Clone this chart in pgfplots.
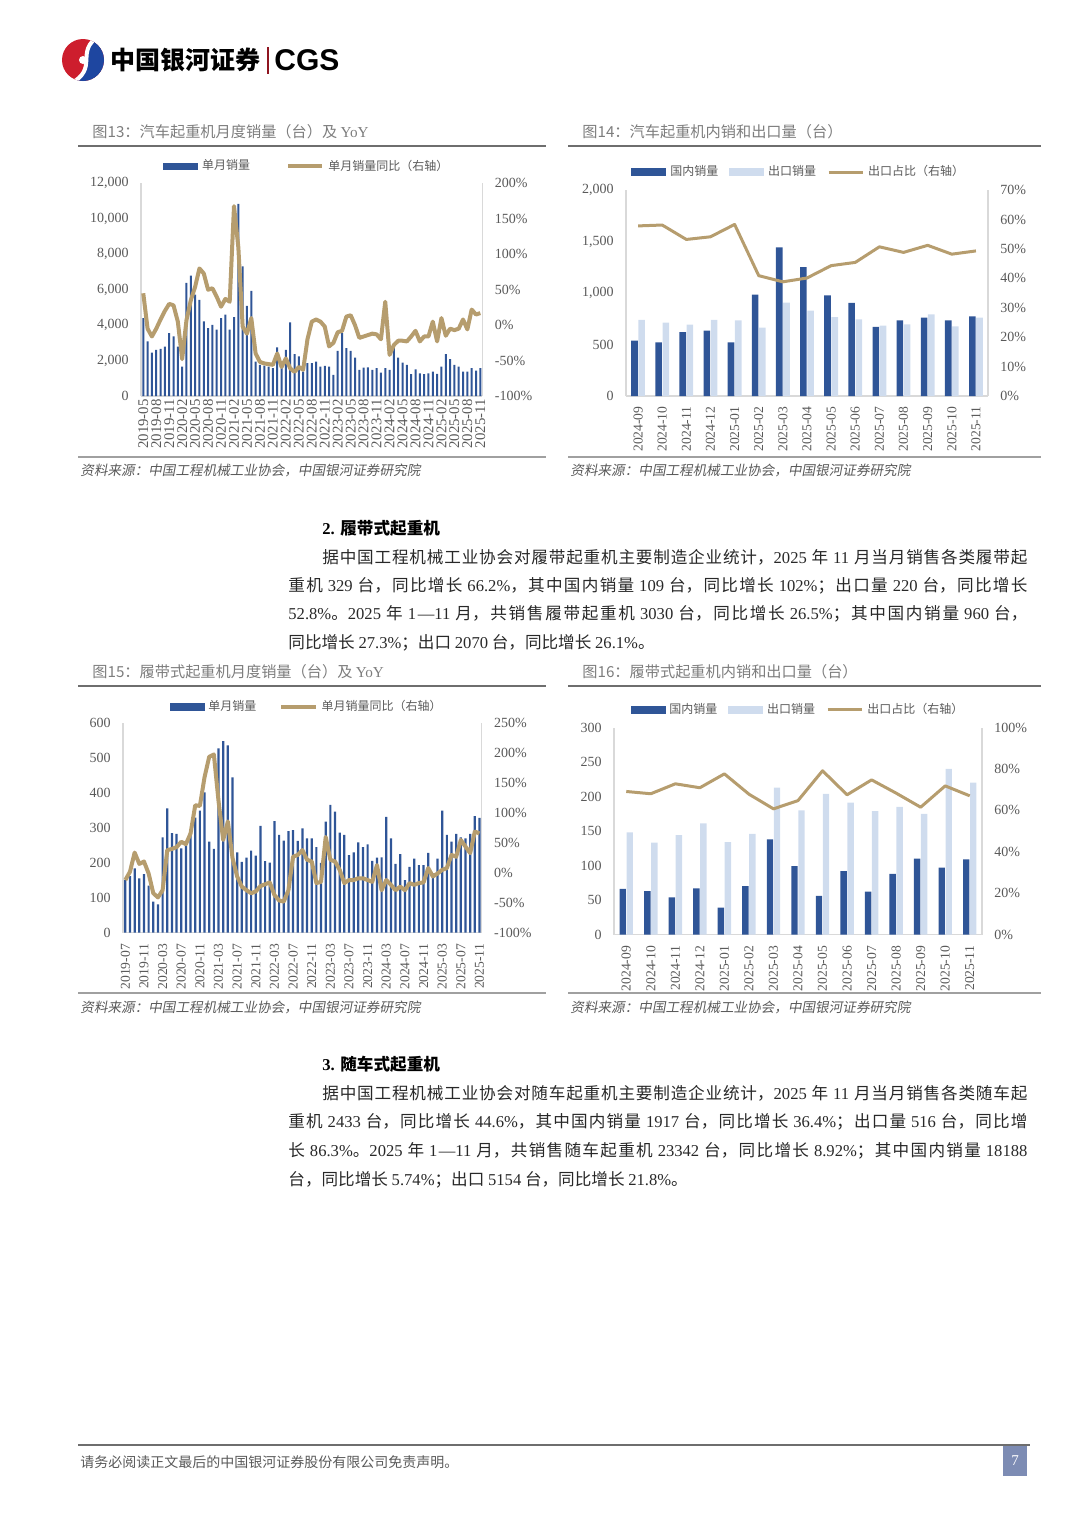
\documentclass[border=0pt]{standalone}
\usepackage{fontspec}
\setmainfont{Liberation Serif}
\setsansfont{Liberation Sans}
\newfontfamily\cjk{Noto Sans CJK SC}
\newfontfamily\cjkit{Noto Sans CJK SC}[FakeSlant=0.18]
\usepackage{pgfplots}
\usepackage{pgfplotstable}
\pgfplotsset{compat=1.18}
\XeTeXlinebreaklocale "zh"
\XeTeXlinebreakskip=0pt plus 2pt minus 0.1pt

\definecolor{dblue}{RGB}{47,85,151}
\definecolor{lblue}{RGB}{207,220,238}
\definecolor{gold}{RGB}{182,157,110}
\definecolor{tgrey}{RGB}{89,89,89}
\definecolor{titlegrey}{RGB}{125,125,125}
\definecolor{axgrey}{RGB}{217,217,217}
\definecolor{rulegrey}{RGB}{110,110,110}
\definecolor{botgrey}{RGB}{160,160,160}
\definecolor{bodytext}{RGB}{40,40,40}
\definecolor{cgsred}{RGB}{205,30,45}
\definecolor{cgsblue}{RGB}{30,70,160}
\definecolor{pagebox}{RGB}{125,140,180}

\newcommand\R[1]{{\rmfamily #1}}
\newcommand\bodyfont{\cjk\fontsize{8.3}{10}\selectfont\color{bodytext}}
\newcommand\jline[2]{\parbox{#1}{\bodyfont\parindent=0pt\parfillskip=0pt\spaceskip=0.28em plus 0.06em minus 0.05em\relax #2}}

\pgfplotstableread{
v yoy
4400 45
3080 -5
2450 -16
2600 -5
2660 8
2790 20
3550 30
3360 28
2790 5
1660 -48
6380 7
6790 35
5720 54
5430 80
4210 73
3830 50
4020 52
3740 40
4400 26
4590 37
3740 33
4450 168
10850 110
7320 -2
5090 -12
5940 10
1940 -40
1760 -52
1720 -54
1660 -55
1570 -56
2740 -40
1940 -59
2600 -47
4150 -61
2360 -66
2230 -59
1380 -63
1850 -20
1850 5
1940 8
1660 5
1700 -2
1660 -30
1190 -25
2550 -10
3550 -8
2700 12
2550 14
2170 0
1470 -18
1600 -16
1620 -14
1470 -12
1570 -13
1320 -20
1570 33
1470 -42
2700 -28
2170 -22
1890 -22
1760 -23
1230 -16
1510 -8
1280 -23
1230 -16
1280 -16
1380 5
1250 -23
1660 10
2360 -15
2080 -5
1760 -7
1660 -5
1380 8
1380 -6
1570 22
1430 15
1570 17
}\tcm

\pgfplotstableread{
dom exp share
537 738 57.8
521 712 58.1
621 693 53.2
634 738 54.1
521 735 58.3
984 663 40.9
1443 906 38.8
1252 828 40.1
977 767 44.3
903 744 45.4
670 683 50.7
735 696 48.8
760 793 51.2
735 676 48.2
773 760 49.3
}\tcx

\pgfplotstableread{
v yoy
151 -12
162 2
184 34
156 15
168 19
135 -1
89 -34
81 -41
273 -29
356 38
285 40
283 43
242 52
261 48
282 66
330 113
350 112
402 160
261 194
240 198
528 120
549 55
537 86
445 25
230 -6
203 -23
215 -29
235 -34
221 -31
306 -22
205 -19
201 -16
320 -37
280 -46
264 -48
291 -29
294 27
263 30
299 38
270 22
270 19
245 -17
200 -15
318 60
366 22
347 19
287 5
280 -17
222 -12
230 -12
259 -9
245 -9
253 -12
206 -15
215 13
216 -29
332 -12
270 -20
197 -29
225 -23
151 -29
189 -17
212 -20
194 -17
194 -16
229 8
170 -6
212 -1
350 5
280 8
261 30
283 27
273 55
270 44
283 33
334 69
329 66
}\ccm

\pgfplotstableread{
dom exp share
66 148 69.1
63 133 68.0
54 144 72.8
67 161 70.9
39 134 77.6
70 146 67.8
138 213 60.7
99 180 64.7
56 204 79.1
92 191 67.5
62 179 74.7
88 185 68.3
110 175 61.5
97 240 71.8
109 220 67.0
}\ccx

\pgfplotsset{
 base/.style={scale only axis, anchor=south west, clip=false,
   axis line style={-, draw=axgrey, line width=0.6pt},
   major tick length=0pt, tick style={draw=none},
   /pgf/number format/assume math mode=true,
   scaled y ticks=false,
   ticklabel style={text=tgrey, font=\fontsize{7}{8}\selectfont},
   yticklabel style={inner xsep=6pt},
   xticklabel style={rotate=90, anchor=east, font=\fontsize{6.8}{7}\selectfont},
 },
 leg/.style 2 args={legend style={at={#1}, anchor=west, draw=none, fill=none, inner sep=0pt,
   font=\cjk\fontsize{6}{7}\selectfont, text=tgrey, legend columns=-1,
   /tikz/every even column/.append style={column sep=#2}}},
 barimg/.style={legend image code/.code={\fill[#1] (0pt,-1.7pt) rectangle (17pt,1.7pt);}},
}

\begin{document}
\begin{tikzpicture}
\begin{scope}[x=0.5pt,y=-0.5pt]
\path[use as bounding box] (0,0) rectangle (1080,1527);
% ---------- header ----------
\begin{scope}
\clip (83,60) circle (21);
\fill[cgsred] (60,37) rectangle (106,83);
\fill[cgsblue] (99,36) .. controls (74,52) and (100,68) .. (70,84) -- (108,84) -- (108,36) -- cycle;
\draw[white, line width=2pt] (99,36) .. controls (74,52) and (100,68) .. (70,84);
\fill[white] (83,60) circle (4);
\end{scope}
\node[anchor=west, inner sep=0pt] at (110,60) {\cjk\bfseries\fontsize{12.5}{14}\selectfont 中国银河证券};
\draw[color=cgsred!70!black, line width=0.7pt] (268,47) -- (268,74);
\node[anchor=west, inner sep=0pt] at (274,60) {\sffamily\bfseries\fontsize{15}{16}\selectfont CGS};
% ---------- chart frames ----------
\node[anchor=west, inner sep=0pt, text=titlegrey] at (92,132) {\cjk\fontsize{7.6}{9}\selectfont 图13：汽车起重机月度销量（台）及 \R{YoY}};
\draw[rulegrey, line width=1pt] (78,146) -- (546,146);
\draw[botgrey, line width=0.7pt] (78,457) -- (546,457);
\node[anchor=west, inner sep=0pt, text=tgrey] at (80,470) {\cjkit\fontsize{6.8}{8}\selectfont 资料来源：中国工程机械工业协会，中国银河证券研究院};

\node[anchor=west, inner sep=0pt, text=titlegrey] at (582,132) {\cjk\fontsize{7.6}{9}\selectfont 图14：汽车起重机内销和出口量（台）};
\draw[rulegrey, line width=1pt] (568,146) -- (1041,146);
\draw[botgrey, line width=0.7pt] (568,457) -- (1041,457);
\node[anchor=west, inner sep=0pt, text=tgrey] at (570,470) {\cjkit\fontsize{6.8}{8}\selectfont 资料来源：中国工程机械工业协会，中国银河证券研究院};

\node[anchor=west, inner sep=0pt, text=titlegrey] at (92,672) {\cjk\fontsize{7.6}{9}\selectfont 图15：履带式起重机月度销量（台）及 \R{YoY}};
\draw[rulegrey, line width=1pt] (78,686) -- (546,686);
\draw[botgrey, line width=0.7pt] (78,993) -- (546,993);
\node[anchor=west, inner sep=0pt, text=tgrey] at (80,1007) {\cjkit\fontsize{6.8}{8}\selectfont 资料来源：中国工程机械工业协会，中国银河证券研究院};

\node[anchor=west, inner sep=0pt, text=titlegrey] at (582,672) {\cjk\fontsize{7.6}{9}\selectfont 图16：履带式起重机内销和出口量（台）};
\draw[rulegrey, line width=1pt] (568,686) -- (1041,686);
\draw[botgrey, line width=0.7pt] (568,993) -- (1041,993);
\node[anchor=west, inner sep=0pt, text=tgrey] at (570,1007) {\cjkit\fontsize{6.8}{8}\selectfont 资料来源：中国工程机械工业协会，中国银河证券研究院};
% ---------- body text ----------
\node[anchor=west, inner sep=0pt] at (322,528) {\fontsize{8.3}{10}\selectfont\bfseries 2. {\cjk\bfseries 履带式起重机}};
\node[anchor=west, inner sep=0pt] at (322,557) {\jline{352.5pt}{据中国工程机械工业协会对履带起重机主要制造企业统计，\R{2025} 年 \R{11} 月当月销售各类履带起}};
\node[anchor=west, inner sep=0pt] at (288,586) {\jline{369.5pt}{重机 \R{329} 台，同比增长 \R{66.2\%}，其中国内销量 \R{109} 台，同比增长 \R{102\%}；出口量 \R{220} 台，同比增长}};
\node[anchor=west, inner sep=0pt] at (288,614) {\jline{369.5pt}{\R{52.8\%}。\R{2025} 年 \R{1—11} 月，共销售履带起重机 \R{3030} 台，同比增长 \R{26.5\%}；其中国内销量 \R{960} 台，}};
\node[anchor=west, inner sep=0pt] at (288,643) {\bodyfont 同比增长 \R{27.3\%}；出口 \R{2070} 台，同比增长 \R{26.1\%}。};

\node[anchor=west, inner sep=0pt] at (322,1064) {\fontsize{8.3}{10}\selectfont\bfseries 3. {\cjk\bfseries 随车式起重机}};
\node[anchor=west, inner sep=0pt] at (322,1093) {\jline{352.5pt}{据中国工程机械工业协会对随车起重机主要制造企业统计，\R{2025} 年 \R{11} 月当月销售各类随车起}};
\node[anchor=west, inner sep=0pt] at (288,1122) {\jline{369.5pt}{重机 \R{2433} 台，同比增长 \R{44.6\%}，其中国内销量 \R{1917} 台，同比增长 \R{36.4\%}；出口量 \R{516} 台，同比增}};
\node[anchor=west, inner sep=0pt] at (288,1151) {\jline{369.5pt}{长 \R{86.3\%}。\R{2025} 年 \R{1—11} 月，共销售随车起重机 \R{23342} 台，同比增长 \R{8.92\%}；其中国内销量 \R{18188}}};
\node[anchor=west, inner sep=0pt] at (288,1180) {\bodyfont 台，同比增长 \R{5.74\%}；出口 \R{5154} 台，同比增长 \R{21.8\%}。};
% ---------- footer ----------
\draw[rulegrey, line width=0.8pt] (78,1445) -- (1030,1445);
\node[anchor=west, inner sep=0pt, text=tgrey] at (80,1462) {\cjk\fontsize{7}{8}\selectfont 请务必阅读正文最后的中国银河证券股份有限公司免责声明。};
\fill[pagebox] (1003,1446) rectangle (1027,1476);
\node[text=white, inner sep=0pt] at (1015,1461) {\fontsize{7.5}{8}\selectfont 7};
\end{scope}

% ================= Chart 13 =================
\begin{axis}[base, at={(70.55pt,-198pt)}, width=170.7pt, height=106.3pt,
  xmin=-0.5, xmax=78.5, ymin=0, ymax=12000, ytick={0,2000,...,12000},
  axis x line*=bottom, axis y line*=left,
  xtick={0,3,...,78},
  xticklabels={2019-05,2019-08,2019-11,2020-02,2020-05,2020-08,2020-11,2021-02,2021-05,2021-08,2021-11,2022-02,2022-05,2022-08,2022-11,2023-02,2023-05,2023-08,2023-11,2024-02,2024-05,2024-08,2024-11,2025-02,2025-05,2025-08,2025-11},
  xticklabel style={inner xsep=1.5pt, font=\fontsize{7.4}{8}\selectfont},
  ybar, bar width=1pt]
\addplot[fill=dblue, draw=none] table[x expr=\coordindex, y=v] {\tcm};
\end{axis}
\begin{axis}[base, at={(70.55pt,-198pt)}, width=170.7pt, height=106.3pt,
  xmin=-0.5, xmax=78.5, ymin=-100, ymax=200, ytick={-100,-50,...,200},
  axis y line*=right, axis x line=none, xtick=\empty,
  yticklabel={\pgfmathprintnumber{\tick}\%},
  leg={(0.064,1.08)}{16pt}]
\addlegendimage{barimg=dblue}
\addlegendentry{单月销量}
\addplot[gold, line width=2pt, line join=round] table[x expr=\coordindex, y=yoy] {\tcm};
\addlegendentry{单月销量同比（右轴）}
\end{axis}

% ================= Chart 14 =================
\begin{axis}[base, at={(313pt,-198pt)}, width=181pt, height=103pt,
  xmin=-0.5, xmax=14.5, ymin=0, ymax=2000, ytick={0,500,...,2000},
  axis x line*=bottom, axis y line*=left,
  xtick={0,...,14},
  xticklabels={2024-09,2024-10,2024-11,2024-12,2025-01,2025-02,2025-03,2025-04,2025-05,2025-06,2025-07,2025-08,2025-09,2025-10,2025-11},
  xticklabel style={inner xsep=5pt},
  ybar=0.3pt, bar width=3.3pt]
\addplot[fill=dblue, draw=none] table[x expr=\coordindex, y=dom] {\tcx};
\addplot[fill=lblue, draw=none] table[x expr=\coordindex, y=exp] {\tcx};
\end{axis}
\begin{axis}[base, at={(313pt,-198pt)}, width=181pt, height=103pt,
  xmin=-0.5, xmax=14.5, ymin=0, ymax=70, ytick={0,10,...,70},
  axis y line*=right, axis x line=none, xtick=\empty,
  yticklabel={\pgfmathprintnumber{\tick}\%},
  leg={(0.014,1.087)}{3.5pt}]
\addlegendimage{barimg=dblue}
\addlegendentry{国内销量}
\addlegendimage{barimg=lblue}
\addlegendentry{出口销量}
\addplot[gold, line width=1.5pt, line join=round] table[x expr=\coordindex, y=share] {\tcx};
\addlegendentry{出口占比（右轴）}
\end{axis}

% ================= Chart 15 =================
\begin{axis}[base, at={(61.5pt,-466.35pt)}, width=179.4pt, height=104.7pt,
  xmin=-0.5, xmax=76.5, ymin=0, ymax=600, ytick={0,100,...,600},
  axis x line*=bottom, axis y line*=left,
  xtick={0,4,...,76},
  xticklabels={2019-07,2019-11,2020-03,2020-07,2020-11,2021-03,2021-07,2021-11,2022-03,2022-07,2022-11,2023-03,2023-07,2023-11,2024-03,2024-07,2024-11,2025-03,2025-07,2025-11},
  xticklabel style={inner xsep=5.5pt},
  ybar, bar width=1.1pt]
\addplot[fill=dblue, draw=none] table[x expr=\coordindex, y=v] {\ccm};
\end{axis}
\begin{axis}[base, at={(61.5pt,-466.35pt)}, width=179.4pt, height=104.7pt,
  xmin=-0.5, xmax=76.5, ymin=-100, ymax=250, ytick={-100,-50,...,250},
  axis y line*=right, axis x line=none, xtick=\empty,
  yticklabel={\pgfmathprintnumber{\tick}\%},
  leg={(0.129,1.079)}{9.5pt}]
\addlegendimage{barimg=dblue}
\addlegendentry{单月销量}
\addplot[gold, line width=2pt, line join=round] table[x expr=\coordindex, y=yoy] {\ccm};
\addlegendentry{单月销量同比（右轴）}
\end{axis}

% ================= Chart 16 =================
\begin{axis}[base, at={(307pt,-467.25pt)}, width=184pt, height=103.5pt,
  xmin=-0.5, xmax=14.5, ymin=0, ymax=300, ytick={0,50,...,300},
  axis x line*=bottom, axis y line*=left,
  xtick={0,...,14},
  xticklabels={2024-09,2024-10,2024-11,2024-12,2025-01,2025-02,2025-03,2025-04,2025-05,2025-06,2025-07,2025-08,2025-09,2025-10,2025-11},
  xticklabel style={inner xsep=5.5pt},
  ybar=0.3pt, bar width=3.2pt]
\addplot[fill=dblue, draw=none] table[x expr=\coordindex, y=dom] {\ccx};
\addplot[fill=lblue, draw=none] table[x expr=\coordindex, y=exp] {\ccx};
\end{axis}
\begin{axis}[base, at={(307pt,-467.25pt)}, width=184pt, height=103.5pt,
  xmin=-0.5, xmax=14.5, ymin=0, ymax=100, ytick={0,20,...,100},
  axis y line*=right, axis x line=none, xtick=\empty,
  yticklabel={\pgfmathprintnumber{\tick}\%},
  leg={(0.044,1.085)}{3.5pt}]
\addlegendimage{barimg=dblue}
\addlegendentry{国内销量}
\addlegendimage{barimg=lblue}
\addlegendentry{出口销量}
\addplot[gold, line width=1.5pt, line join=round] table[x expr=\coordindex, y=share] {\ccx};
\addlegendentry{出口占比（右轴）}
\end{axis}
\end{tikzpicture}
\end{document}
